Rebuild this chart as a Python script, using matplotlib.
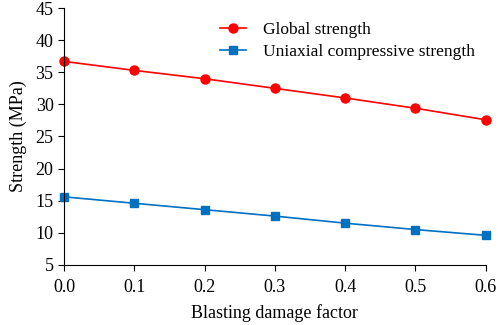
import matplotlib
matplotlib.use('Agg')
import matplotlib.pyplot as plt

plt.rcParams['font.family'] = ['Liberation Serif', 'DejaVu Serif']

# data
damage = [0.0, 0.1, 0.2, 0.3, 0.4, 0.5, 0.6]
global_strength = [36.7, 35.3, 34.0, 32.5, 31.0, 29.4, 27.6]
ucs = [15.6, 14.6, 13.6, 12.6, 11.5, 10.5, 9.6]

fig = plt.figure(figsize=(4.98, 3.25), dpi=100)
ax = fig.add_axes([0.1285, 0.185, 0.847, 0.79])

ax.plot(damage, global_strength, color='#FF0000', marker='o', markersize=6.5,
        linewidth=1.2, label='Global strength', clip_on=False)
ax.plot(damage, ucs, color='#0070C0', marker='s', markersize=6,
        linewidth=1.2, label='Uniaxial compressive strength', clip_on=False)

ax.set_xlim(0, 0.6)
ax.set_ylim(5, 45)
ax.set_xticks([0.0, 0.1, 0.2, 0.3, 0.4, 0.5, 0.6])
ax.set_xticklabels(['0.0', '0.1', '0.2', '0.3', '0.4', '0.5', '0.6'])
ax.set_yticks(range(5, 46, 5))

ax.spines['top'].set_visible(False)
ax.spines['right'].set_visible(False)
ax.tick_params(direction='out', labelsize=13, length=4)
ax.tick_params(axis='x', pad=6)

ax.set_xlabel('Blasting damage factor', fontsize=13, labelpad=6)
ax.set_ylabel('Strength (MPa)', fontsize=13, labelpad=6)

ax.legend(loc='upper left', bbox_to_anchor=(0.353, 0.975), borderaxespad=0,
          frameon=False, fontsize=12.5, handlelength=1.5, handletextpad=1.0,
          labelspacing=0.35)

fig.savefig('out.png', dpi=100)
